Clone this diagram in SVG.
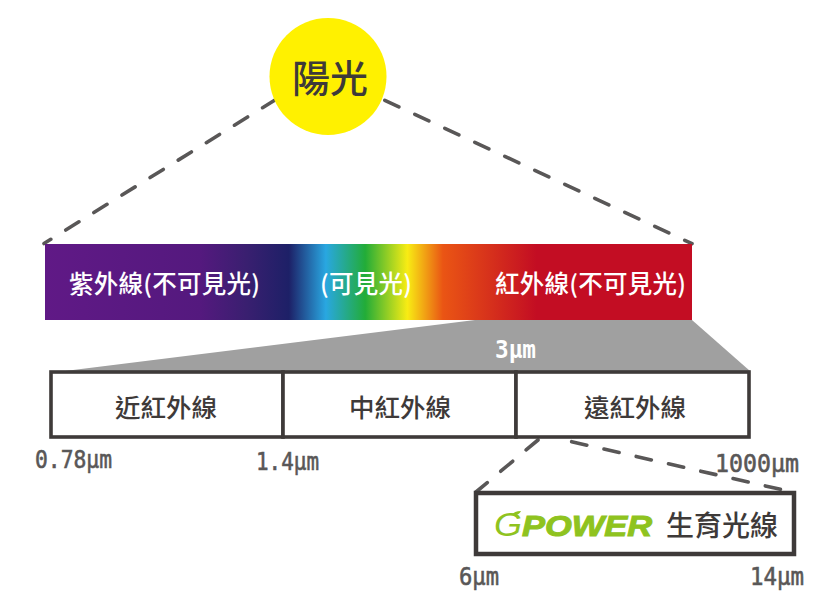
<svg xmlns="http://www.w3.org/2000/svg" width="832" height="600" viewBox="0 0 832 600">
<style>
text{font-family:"Noto Sans CJK TC","Noto Sans",sans-serif}
.w{fill:#fff;font-size:24.5px;font-weight:500}
.b{fill:#3e3a39;font-size:25.5px;font-weight:500;text-anchor:middle}
.u{fill:#595757;stroke:#595757;stroke-width:.6;font-size:25px;font-family:"DejaVu Sans Mono","Liberation Mono",monospace}
.d{fill:none;stroke:#595757;stroke-width:3.6;stroke-linecap:round;stroke-dasharray:15.5 17.6}
.r{fill:#fff;stroke:#3e3a39;stroke-width:3.6}
</style>
<defs>
<linearGradient id="sp" x1="45" x2="692" y1="0" y2="0" gradientUnits="userSpaceOnUse">
<stop offset="0" stop-color="#601986"/>
<stop offset="0.24" stop-color="#54197e"/>
<stop offset="0.31" stop-color="#3a1f70"/>
<stop offset="0.377" stop-color="#1d2067"/>
<stop offset="0.434" stop-color="#29a7e1"/>
<stop offset="0.495" stop-color="#22ac38"/>
<stop offset="0.56" stop-color="#f8ec14"/>
<stop offset="0.615" stop-color="#ea5514"/>
<stop offset="0.76" stop-color="#c30d23"/>
<stop offset="1" stop-color="#c30d23"/>
</linearGradient>
</defs>
<g id="connectors">
<path class="d" d="M44 243.5L275 100" stroke-dashoffset="7.5"/>
<path class="d" d="M692 243.7L382 99" stroke-dashoffset="7.5"/>
<path class="d" d="M538 440L476 492"/>
<path class="d" d="M571.7 441.7L792 492"/>
<polygon points="65,371 475,320 692,320 750,371" fill="#a0a0a0"/>
</g>
<g id="sun">
<circle cx="328" cy="76.5" r="58.5" fill="#fff100"/>
<text x="330" y="92" style="font-size:38px;font-weight:500;fill:#3e3a39;text-anchor:middle">陽光</text>
</g>
<g id="spectrum">
<rect x="45" y="244" width="647" height="76" fill="url(#sp)"/>
<text class="w" x="69" y="293" textLength="191">紫外線(不可見光)</text>
<text class="w" x="320" y="293" textLength="92">(可見光)</text>
<text class="w" x="495" y="293" textLength="191">紅外線(不可見光)</text>
</g>
<text x="495" y="358" style="fill:#fff;font-size:24px;font-weight:700;font-family:'DejaVu Sans Mono',monospace" textLength="41" lengthAdjust="spacingAndGlyphs">3µm</text>
<g id="near"><rect class="r" x="51" y="372" width="232" height="65"/><text class="b" x="166" y="417">近紅外線</text></g>
<g id="mid"><rect class="r" x="283" y="372" width="233" height="65"/><text class="b" x="400" y="417">中紅外線</text></g>
<g id="far"><rect class="r" x="516" y="372" width="233" height="65"/><text class="b" x="635" y="417">遠紅外線</text></g>
<text class="u" x="35" y="468" textLength="77" lengthAdjust="spacingAndGlyphs">0.78µm</text>
<text class="u" x="256" y="470" textLength="63" lengthAdjust="spacingAndGlyphs">1.4µm</text>
<text class="u" x="715" y="472" textLength="84" lengthAdjust="spacingAndGlyphs">1000µm</text>
<g id="gpower">
<rect x="476" y="493" width="318" height="61" fill="#fff" stroke="#3e3a39" stroke-width="4.5"/>
<text x="494" y="536" style="font-size:33px;font-style:italic;fill:#8fc31f;font-family:'Liberation Sans',sans-serif" textLength="28" lengthAdjust="spacingAndGlyphs">G</text>
<path d="M512 515q2-4 9-4q-2 5-9 4z" fill="#8fc31f"/>
<text x="522" y="536" style="font-size:29px;font-weight:700;font-style:italic;fill:#8fc31f;stroke:#8fc31f;stroke-width:1;font-family:'Liberation Sans',sans-serif" textLength="130" lengthAdjust="spacingAndGlyphs">POWER</text>
<text x="666" y="536" style="font-size:28px;font-weight:500;fill:#3e3a39" textLength="112">生育光線</text>
</g>
<text class="u" x="459" y="585" textLength="40" lengthAdjust="spacingAndGlyphs">6µm</text>
<text class="u" x="750" y="585" textLength="54" lengthAdjust="spacingAndGlyphs">14µm</text>
</svg>
